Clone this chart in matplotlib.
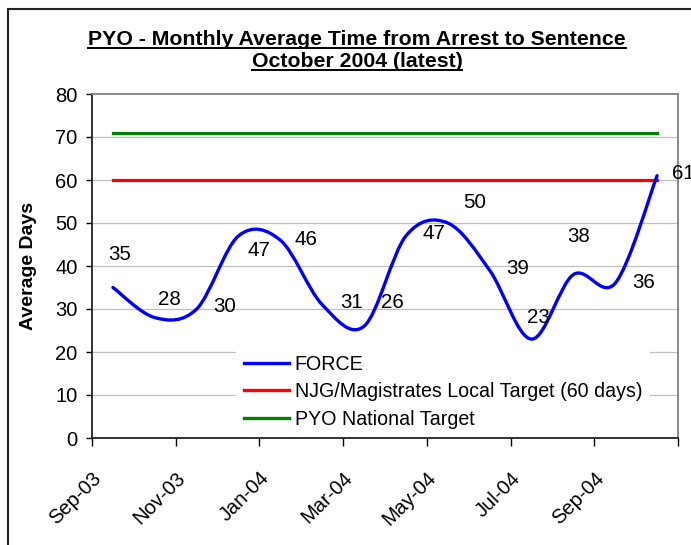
import matplotlib
matplotlib.use('Agg')
import matplotlib.pyplot as plt
import numpy as np
from matplotlib.path import Path
from matplotlib.patches import PathPatch, Rectangle
from matplotlib.lines import Line2D
from matplotlib.transforms import ScaledTranslation

plt.rcParams['font.family'] = ['Liberation Sans', 'DejaVu Sans']

# Monthly data, Sep-03 .. Oct-04
months = ['Sep-03', 'Oct-03', 'Nov-03', 'Dec-03', 'Jan-04', 'Feb-04', 'Mar-04',
          'Apr-04', 'May-04', 'Jun-04', 'Jul-04', 'Aug-04', 'Sep-04', 'Oct-04']
force = [35, 28, 30, 47, 46, 31, 26, 47, 50, 39, 23, 38, 36, 61]
local_target = 60
national_target = 71

# label offsets (pixels) as they were dragged in the original
label_dx = [7, 15, 28, 20, 26, 29, 28, 28, 27, 28, 7, 5, 28, 26]
label_dy = [33, 18, 2, -15, 1, 2, 24, 2, 21, 2, 22, 38, 1, 2]

W, H = 691, 545
fig = plt.figure(figsize=(W / 100, H / 100), dpi=100)
ax = fig.add_axes([92 / W, 1 - 438 / H, (678 - 92) / W, (438 - 94) / H])

x = np.arange(len(months))
y = np.array(force, dtype=float)

# Excel-like smoothed line: Catmull-Rom as cubic Bezier segments
pts = np.column_stack([x, y])
verts = [tuple(pts[0])]
codes = [Path.MOVETO]
for i in range(len(pts) - 1):
    p0 = pts[max(i - 1, 0)]
    p1 = pts[i]
    p2 = pts[i + 1]
    p3 = pts[min(i + 2, len(pts) - 1)]
    c1 = p1 + (p2 - p0) / 6
    c2 = p2 - (p3 - p1) / 6
    verts += [tuple(c1), tuple(c2), tuple(p2)]
    codes += [Path.CURVE4] * 3
ax.add_patch(PathPatch(Path(verts, codes), fill=False, edgecolor='#0000FF',
                       lw=2.4, capstyle='round', joinstyle='round', zorder=4))

ax.plot([x[0], x[-1]], [local_target] * 2, color='#FF0000', lw=2.3, zorder=3)
ax.plot([x[0], x[-1]], [national_target] * 2, color='#008000', lw=2.3, zorder=3)

for xi, yi, dx, dy in zip(x, force, label_dx, label_dy):
    ax.annotate(str(yi), (xi, yi), xytext=(dx, dy), textcoords='offset pixels',
                ha='center', va='center', fontsize=14.8, zorder=5)

ax.set_xlim(-0.5, len(months) - 0.5)
ax.set_ylim(0, 80)
ax.set_yticks(range(0, 81, 10))
tick_pos = np.arange(-0.5, len(months), 2)
ax.set_xticks(tick_pos)
ax.set_xticklabels([months[int(p + 0.5)] if int(p + 0.5) < len(months) else ''
                    for p in tick_pos],
                   rotation=45, ha='right', rotation_mode='anchor')
for lab in ax.get_xticklabels():
    lab.set_transform(lab.get_transform() + ScaledTranslation(0.05, 0, fig.dpi_scale_trans))
ax.tick_params(axis='y', length=6 * 0.72, width=1, pad=6, labelsize=14.5)
ax.tick_params(axis='x', length=8 * 0.72, width=1, pad=16, labelsize=14.5)

for v in range(10, 80, 10):
    ax.axhline(v, color='#C0C0C0', lw=0.9, zorder=1)
for s in ['top', 'right']:
    ax.spines[s].set_color('#808080')
    ax.spines[s].set_linewidth(1.3)
for s in ['left', 'bottom']:
    ax.spines[s].set_color('#222222')
    ax.spines[s].set_linewidth(1.3)

ax.set_ylabel('Average Days', fontsize=14, fontweight='bold', labelpad=13)

handles = [Line2D([], [], color='#0000FF', lw=2.4),
           Line2D([], [], color='#FF0000', lw=2.4),
           Line2D([], [], color='#008000', lw=2.4)]
leg = ax.legend(handles, ['FORCE', 'NJG/Magistrates Local Target (60 days)', 'PYO National Target'],
                loc='lower left', bbox_to_anchor=((236 - 92) / 586, 0.003),
                fontsize=14.1, frameon=True, facecolor='white', edgecolor='none',
                framealpha=1, fancybox=False, handlelength=2.3, handletextpad=0.3,
                labelspacing=0.45, borderpad=0.4, borderaxespad=0)
leg.set_zorder(6)

t1 = fig.text(357 / W, 1 - 45 / H, 'PYO - Monthly Average Time from Arrest to Sentence',
              ha='center', va='baseline', fontsize=15.3, fontweight='bold')
t2 = fig.text(357 / W, 1 - 67 / H, 'October 2004 (latest)',
              ha='center', va='baseline', fontsize=15.3, fontweight='bold')

# chart area border
fig.patches.append(Rectangle((8 / W, -0.2), 1.5, 1 - 9 / H + 0.2, transform=fig.transFigure,
                             fill=False, edgecolor='#222222', lw=1.5))

# underline the title lines
fig.canvas.draw()
r = fig.canvas.get_renderer()
for t, base in [(t1, 45), (t2, 67)]:
    bb = t.get_window_extent(r)
    yy = 1 - (base + 3) / H
    fig.add_artist(Line2D([bb.x0 / W, bb.x1 / W], [yy, yy], transform=fig.transFigure,
                          color='black', lw=1.4))

fig.savefig('out.png', dpi=100)
